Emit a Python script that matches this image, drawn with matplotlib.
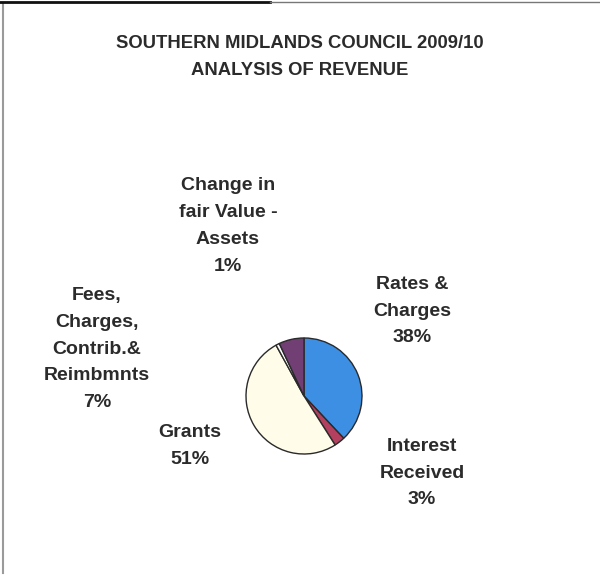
import matplotlib
matplotlib.use("Agg")
import matplotlib.pyplot as plt

categories = ["Rates &\nCharges", "Interest\nReceived", "Grants",
              "Change in\nfair Value -\nAssets", "Fees,\nCharges,\nContrib.&\nReimbmnts"]
shares = [38, 3, 51, 1, 7]
colors = ["#3d8fe3", "#b2405e", "#fffdea", "#ffffff", "#713f73"]
# label anchor centres in pixel space (x, y from top)
label_pos = [(412, 311), (422, 473), (190, 446), (228, 226), (97, 349)]

W, H = 600, 575
fig = plt.figure(figsize=(W / 100, H / 100), dpi=100)
ax = fig.add_axes([0, 0, 1, 1])
ax.set_xlim(0, W)
ax.set_ylim(0, H)
ax.set_aspect("equal")
ax.axis("off")

font = ["Liberation Sans Narrow", "Liberation Sans", "DejaVu Sans"]
txt = "#2b2b2b"

ax.pie(shares, colors=colors, startangle=90, counterclock=False,
       center=(304, H - 396), radius=58,
       wedgeprops={"edgecolor": "#2a2a2a", "linewidth": 1.0})
ax.set_xlim(0, W)
ax.set_ylim(0, H)

ax.text(W / 2, H - 57, "SOUTHERN MIDLANDS COUNCIL 2009/10\nANALYSIS OF REVENUE",
        ha="center", va="center", fontsize=13.3, fontweight="bold",
        family=font, color=txt, linespacing=1.75)

for cat, val, (px, py) in zip(categories, shares, label_pos):
    ax.text(px, H - py, f"{cat}\n{val}%", ha="center", va="center",
            fontsize=14, fontweight="bold", family=font, color=txt,
            linespacing=1.76)

# scanned page frame
ax.plot([3, 3], [2, H - 4], color="#9a9a9a", lw=1.5)
ax.plot([0, 270], [H - 2, H - 2], color="#111111", lw=2)
ax.plot([270, W], [H - 2, H - 2], color="#777777", lw=1)

fig.savefig("out.png", dpi=100)
